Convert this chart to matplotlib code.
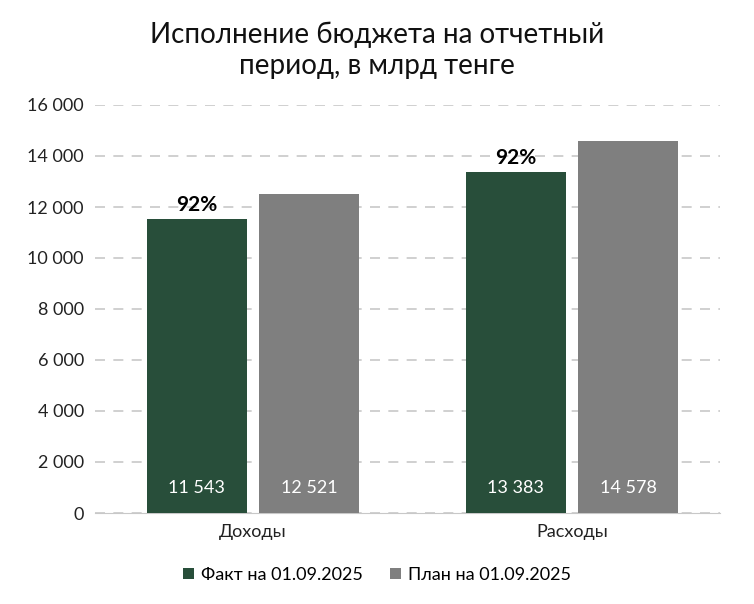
import matplotlib
matplotlib.use("Agg")
import matplotlib.pyplot as plt

categories = ["Доходы", "Расходы"]
fact = [11543, 13383]
plan = [12521, 14578]
pct_labels = ["92%", "92%"]
yticks = [0, 2000, 4000, 6000, 8000, 10000, 12000, 14000, 16000]

def fmt(v):
    return f"{v:,}".replace(",", " ")

plt.rcParams["font.family"] = "Lato"
fig = plt.figure(figsize=(7.54, 6.04), dpi=100)
ax = fig.add_axes([95/754, 1-513/604, 625/754, 408/604])
c_fact, c_plan = "#284e3a", "#7f7f7f"
w = 0.314; off = 0.176
xs = list(range(len(categories)))
ax.bar([x - off for x in xs], fact, w, color=c_fact, label="Факт на 01.09.2025", zorder=3)
ax.bar([x + off for x in xs], plan, w, color=c_plan, label="План на 01.09.2025", zorder=3)
for x, f, p, l in zip(xs, fact, plan, pct_labels):
    ax.text(x - off, 650, fmt(f), ha="center", va="bottom", color="white", fontsize=13, zorder=4)
    ax.text(x + off, 650, fmt(p), ha="center", va="bottom", color="white", fontsize=13, zorder=4)
    ax.text(x - off, f + 150, l, ha="center", va="bottom", color="black", fontsize=15, fontweight="bold", zorder=4)
ax.set_xlim(-0.495, 1.464)
ax.set_ylim(0, 16000)
ax.set_yticks(yticks)
ax.set_yticklabels([fmt(v) for v in yticks], fontsize=13)
ax.set_xticks(xs)
ax.set_xticklabels(categories, fontsize=13)
ax.yaxis.grid(True, color="#c8c8c8", linestyle=(0, (6, 5)), linewidth=1.2, zorder=0)
for s in ["top", "right", "left"]:
    ax.spines[s].set_visible(False)
ax.spines["bottom"].set_color("#c8c8c8")
ax.tick_params(axis="both", length=0, pad=8, colors="#222222")
fig.text(0.5, 1-50/604, "Исполнение бюджета на отчетный\nпериод, в млрд тенге", ha="center", va="center",
         fontsize=20, linespacing=1.25, color="#111111")
fig.legend(loc="center", bbox_to_anchor=(0.5, 1-575/604), ncol=2, frameon=False, fontsize=13,
           handlelength=0.6, handleheight=0.6, columnspacing=1.5, handletextpad=0.4)
fig.savefig("out.png", dpi=100)
